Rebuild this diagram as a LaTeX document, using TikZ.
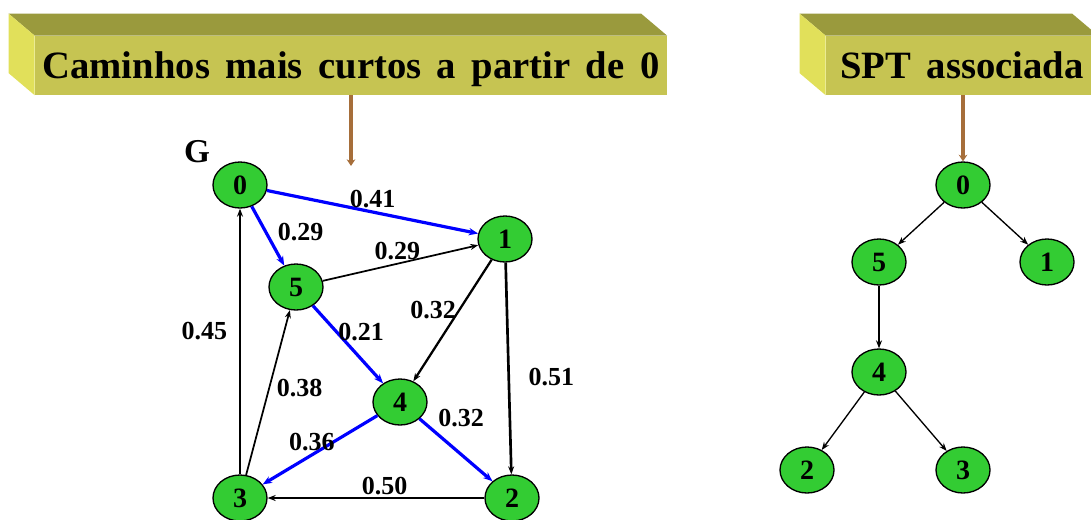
\documentclass[tikz,border=0pt]{standalone}
\usepackage{fontspec}
\setmainfont{Liberation Serif}
\newfontfamily\bannerfont{Liberation Serif}[WordSpace=1.6]
\usetikzlibrary{arrows.meta,shapes.geometric}
\definecolor{bannertop}{RGB}{154,154,61}
\definecolor{bannerfront}{RGB}{198,196,82}
\definecolor{bannerside}{RGB}{225,224,90}
\definecolor{vertexgreen}{RGB}{51,204,51}
\definecolor{pointerbrown}{RGB}{166,110,58}

\begin{document}
\begin{tikzpicture}[x=0.75pt,y=-0.75pt,>=Stealth,
  banner/.style={fill=bannerfront,minimum height=44.25pt,inner sep=0pt,
    text height=19pt,text depth=0pt,font=\bannerfont\bfseries\fontsize{29}{30}\selectfont},
  vertex/.style={ellipse,draw=black,line width=1pt,fill=vertexgreen,
    minimum width=40.5pt,minimum height=34.5pt,inner sep=0pt,
    font=\bfseries\fontsize{21}{21}\selectfont},
  weight/.style={text=black,font=\bfseries\fontsize{19.5}{19.5}\selectfont,inner sep=2pt},
  sptedge/.style={-{Stealth[length=7pt,width=5.5pt]},blue,line width=2.4pt},
  plainedge/.style={-{Stealth[length=6pt,width=4.5pt]},black,line width=1.3pt},
  treeedge/.style={-{Stealth[length=6pt,width=4.5pt]},black,line width=1pt},
  pointer/.style={-{Stealth[length=5pt,width=6.5pt]},pointerbrown,line width=2.8pt}]
  \useasboundingbox (0,0) rectangle (1091,519);
  \clip (0,0) rectangle (1091,519);

  % title banners
  \node[banner,minimum width=474pt] (bannerG) at (351,65.5) {Caminhos mais curtos a partir de 0};
  \node[banner,minimum width=204pt] (bannerT) at (962,65.5) {SPT associada};
  \foreach \b in {bannerG,bannerT} {
    \fill[bannertop] (\b.north west) -- ++(-26,-22) -- ([shift={(-26,-22)}]\b.north east)
      -- (\b.north east) -- cycle;
    \fill[bannerside] (\b.north west) -- ++(-26,-22) -- ([shift={(-26,-22)}]\b.south west)
      -- (\b.south west) -- cycle;
  }

  % graph G
  \node[font=\bfseries\fontsize{25}{25}\selectfont] (glabel) at (197,152) {G};
  \node[vertex] (g0) at (240,185) {0};
  \node[vertex] (g1) at (505,239) {1};
  \node[vertex] (g2) at (512,498) {2};
  \node[vertex] (g3) at (240,498) {3};
  \node[vertex] (g4) at (400,402) {4};
  \node[vertex] (g5) at (296,287) {5};
  \coordinate (gtip) at (351,166);
  \draw[pointer] (bannerG.south) -- (gtip);

  \draw[sptedge] (g0) -- node[weight,pos=.5,above] {0.41} (g1);
  \draw[sptedge] (g0) -- node[weight,pos=.43,right=6pt] {0.29} (g5);
  \draw[plainedge] (g5) -- node[weight,pos=.48,above] {0.29} (g1);
  \draw[sptedge] (g5) -- node[weight,pos=.34,right=-2pt] {0.21} (g4);
  \draw[plainedge,line width=1.7pt] (g1) -- node[weight,pos=.41,left] {0.32} (g4);
  \draw[plainedge,line width=2pt] (g1) -- node[weight,pos=.54,right=12pt] {0.51} (g2);
  \draw[sptedge] (g4) -- node[weight,pos=.2,above right] {0.32} (g2);
  \draw[sptedge] (g4) -- node[weight,pos=.57,above] {0.36} (g3);
  \draw[plainedge] (g3) -- node[weight,pos=.53,right=3pt] {0.38} (g5);
  \draw[plainedge] (g3) -- node[weight,pos=.54,left=7pt] {0.45} (g0);
  \draw[plainedge] (g2) -- node[weight,pos=.46,above] {0.50} (g3);

  % shortest path tree
  \node[vertex] (t0) at (963,185) {0};
  \node[vertex] (t5) at (879,262) {5};
  \node[vertex] (t1) at (1047,262) {1};
  \node[vertex] (t4) at (879,372) {4};
  \node[vertex] (t2) at (807,470) {2};
  \node[vertex] (t3) at (963,470) {3};
  \draw[pointer] (t0 |- bannerT.south) -- (t0);

  \draw[treeedge] (t0) -- (t5);
  \draw[treeedge] (t0) -- (t1);
  \draw[treeedge] (t5) -- (t4);
  \draw[treeedge] (t4) -- (t2);
  \draw[treeedge] (t4) -- (t3);
\end{tikzpicture}
\end{document}
